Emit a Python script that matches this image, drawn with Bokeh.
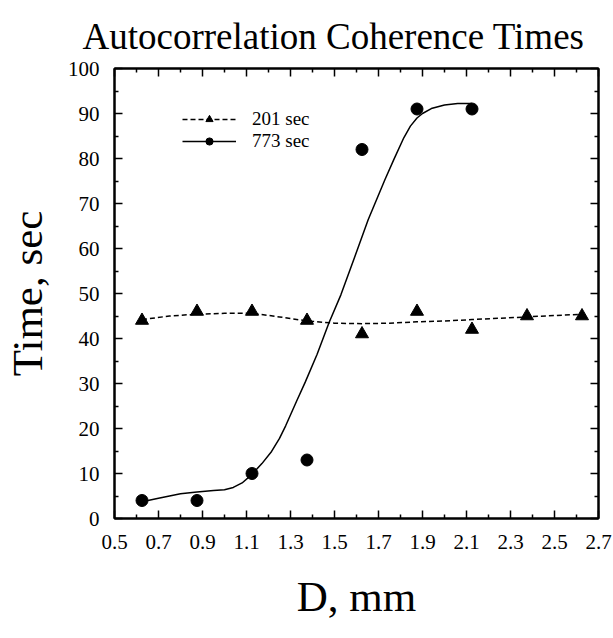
from bokeh.plotting import figure
from bokeh.models import (Range1d, FixedTicker, LinearAxis, Legend, LegendItem, Title)
from bokeh.embed import file_html
from bokeh.resources import INLINE

# ---- data ----
d_201 = [0.625, 0.875, 1.125, 1.375, 1.625, 1.875, 2.125, 2.375, 2.625]
t_201 = [44, 46, 46, 44, 41, 46, 42, 45, 45]

d_773 = [0.625, 0.875, 1.125, 1.375, 1.625, 1.875, 2.125]
t_773 = [4, 4, 10, 13, 82, 91, 91]

# smooth fitted curves as drawn in the reference
fit201_x = [0.625, 0.75, 0.875, 1.0, 1.125, 1.25, 1.375, 1.5, 1.625, 1.75,
            1.875, 2.0, 2.125, 2.25, 2.375, 2.5, 2.625]
fit201_y = [44.2, 45.0, 45.4, 45.6, 45.6, 44.8, 43.9, 43.4, 43.3, 43.4,
            43.7, 43.9, 44.2, 44.5, 44.8, 45.1, 45.4]

fit773_x = [0.625, 0.7, 0.75, 0.8, 0.875, 0.95, 1.0, 1.04, 1.08, 1.125,
            1.17, 1.214, 1.25, 1.278, 1.327, 1.367, 1.421, 1.475, 1.529,
            1.591, 1.653, 1.73, 1.77, 1.815, 1.845, 1.875, 1.9, 1.94, 2.0,
            2.06, 2.125]
fit773_y = [3.7, 4.5, 5.0, 5.5, 5.9, 6.2, 6.4, 6.9, 7.9, 9.8,
            12.2, 14.9, 17.8, 20.6, 26.0, 30.3, 36.5, 43.5, 49.7,
            58.0, 66.4, 75.4, 79.8, 84.6, 87.2, 89.0, 90.0, 91.1, 91.9,
            92.2, 92.2]

x_major = [0.5, 0.7, 0.9, 1.1, 1.3, 1.5, 1.7, 1.9, 2.1, 2.3, 2.5, 2.7]
x_minor = [0.6, 0.8, 1.0, 1.2, 1.4, 1.6, 1.8, 2.0, 2.2, 2.4, 2.6]
y_major = [0, 10, 20, 30, 40, 50, 60, 70, 80, 90, 100]
y_minor = [5, 15, 25, 35, 45, 55, 65, 75, 85, 95]

title_text = "Autocorrelation Coherence Times"
x_title = "D, mm"
y_title = "Time, sec"

FONT = "Liberation Serif"

p = figure(width=613, height=638, output_backend="svg", toolbar_location=None,
           x_range=Range1d(0.5, 2.7), y_range=Range1d(0, 100),
           min_border_left=113, min_border_right=15,
           min_border_top=68, min_border_bottom=120)
p.title = Title(text=title_text, align="left", text_font=FONT,
                text_font_size="37px", text_font_style="normal",
                text_color="black", offset=-32, standoff=23)
p.grid.visible = False
p.outline_line_color = "black"
p.outline_line_width = 2
p.background_fill_color = "white"
p.border_fill_color = "white"

def style_axis(ax, labels=True):
    ax.axis_line_width = 2
    ax.axis_line_color = "black"
    ax.major_tick_in = 8
    ax.major_tick_out = 0
    ax.minor_tick_in = 4
    ax.minor_tick_out = 0
    ax.major_tick_line_width = 1.5
    ax.minor_tick_line_width = 1.5
    ax.major_tick_line_color = "black"
    ax.minor_tick_line_color = "black"
    ax.major_label_text_font = FONT
    ax.major_label_text_color = "black"
    ax.major_label_text_font_size = "21px"
    if not labels:
        ax.major_label_standoff = 0

xt = FixedTicker(ticks=x_major, minor_ticks=x_minor)
yt = FixedTicker(ticks=y_major, minor_ticks=y_minor)

p.xaxis.ticker = xt
p.yaxis.ticker = yt
p.xaxis.major_label_overrides = {v: f"{v:.1f}" for v in x_major}
for ax in p.xaxis:
    style_axis(ax)
    ax.major_label_standoff = 16
    ax.axis_label = x_title
    ax.axis_label_text_font = FONT
    ax.axis_label_text_color = "black"
    ax.axis_label_text_font_size = "43px"
    ax.axis_label_text_font_style = "normal"
    ax.axis_label_standoff = 21
for ax in p.yaxis:
    style_axis(ax)
    ax.major_label_standoff = 15
    ax.axis_label = y_title
    ax.axis_label_text_font = FONT
    ax.axis_label_text_color = "black"
    ax.axis_label_text_font_size = "43px"
    ax.axis_label_text_font_style = "normal"
    ax.axis_label_standoff = 14

top_ax = LinearAxis(ticker=FixedTicker(ticks=x_major, minor_ticks=x_minor))
style_axis(top_ax, labels=False)
top_ax.major_label_overrides = {v: "" for v in x_major}
p.add_layout(top_ax, "above")
right_ax = LinearAxis(ticker=FixedTicker(ticks=y_major, minor_ticks=y_minor))
style_axis(right_ax, labels=False)
right_ax.major_label_overrides = {v: "" for v in y_major}
p.add_layout(right_ax, "right")

# curves
l201 = p.line(fit201_x, fit201_y, line_color="black", line_width=1.5, line_dash="5 3")
l773 = p.line(fit773_x, fit773_y, line_color="black", line_width=1.5)
m201 = p.scatter(d_201, t_201, marker="triangle", size=13, fill_color="black",
                 line_color="black")
m773 = p.scatter(d_773, t_773, marker="circle", size=12, fill_color="black",
                 line_color="black")

legend = Legend(items=[LegendItem(label="201 sec", renderers=[l201, m201]),
                       LegendItem(label="773 sec", renderers=[l773, m773])],
                location=(68, 366), orientation="vertical",
                glyph_width=54, glyph_height=18, label_height=18,
                label_standoff=16, spacing=-2, padding=0, margin=0,
                label_text_font=FONT, label_text_font_size="19px",
                label_text_line_height=0.95,
                label_text_color="black",
                border_line_color=None, background_fill_alpha=0)
p.add_layout(legend, "center")

open("out.html", "w").write(file_html(p, INLINE))
